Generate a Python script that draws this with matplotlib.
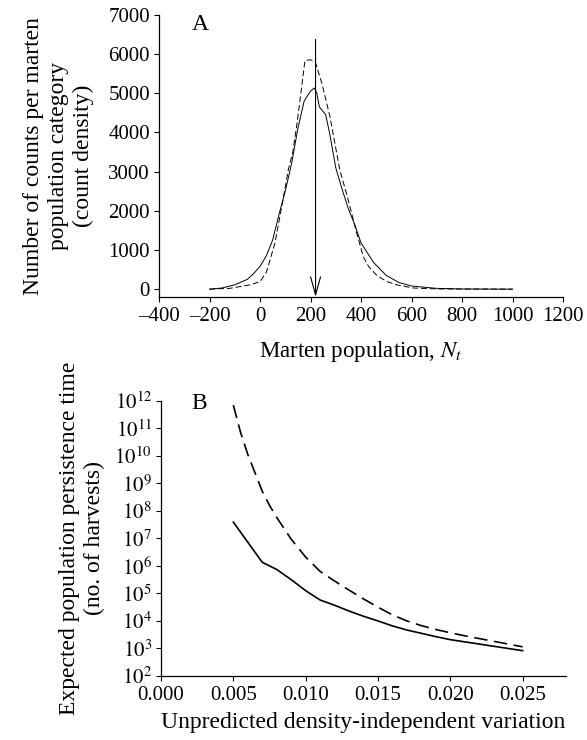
import matplotlib
matplotlib.use("Agg")
import matplotlib.pyplot as plt
import numpy as np

plt.rcParams['font.family'] = ['Liberation Serif', 'DejaVu Serif']
plt.rcParams['mathtext.fontset'] = 'stix'

# Panel A data
a_solid_x = [-200, -150, -100, -75, -50, -25, 0, 25, 50, 75, 100, 125, 150, 175, 200, 215,
             225, 235, 260, 275, 300, 325, 350, 375, 400, 450, 500, 550, 600, 700, 800, 1000]
a_solid_y = [0, 30, 110, 180, 250, 400, 580, 850, 1250, 1900, 2500, 3200, 4100, 4800, 5050, 5130,
             5000, 4650, 4450, 4000, 3100, 2550, 2050, 1650, 1180, 680, 350, 170, 80, 20, 5, 0]
a_dash_x = [-200, -120, -40, 0, 25, 40, 60, 79, 100, 112, 130, 145, 160, 178, 200, 218,
            245, 277, 300, 316, 340, 356, 380, 409, 430, 461, 500, 541, 607, 700, 1000]
a_dash_y = [0, 20, 110, 190, 430, 750, 1200, 1860, 2600, 3040, 3500, 4150, 4900, 5830, 5850, 5810,
            5250, 4400, 3600, 3040, 2500, 2110, 1500, 830, 580, 360, 200, 110, 30, 5, 0]
arrow_x = 220
arrow_top = 6370

# Panel B data (log10 of expected persistence time)
b_solid_x = [0.005, 0.006, 0.007, 0.008, 0.009, 0.010, 0.011, 0.012, 0.013, 0.014, 0.015,
             0.016, 0.017, 0.018, 0.019, 0.020, 0.021, 0.022, 0.023, 0.024, 0.025]
b_solid_log = [7.59, 6.86, 6.13, 5.87, 5.5, 5.1, 4.76, 4.57, 4.36, 4.17, 4.0,
               3.82, 3.67, 3.55, 3.43, 3.32, 3.24, 3.16, 3.08, 3.0, 2.92]
b_dash_x = [0.005, 0.0055, 0.006, 0.0065, 0.007, 0.0075, 0.008, 0.009, 0.010, 0.011, 0.012,
            0.013, 0.014, 0.015, 0.016, 0.017, 0.018, 0.019, 0.020, 0.021, 0.022, 0.023,
            0.024, 0.025]
b_dash_log = [11.84, 10.85, 10.05, 9.38, 8.71, 8.2, 7.76, 6.97, 6.32, 5.8, 5.45,
              5.12, 4.8, 4.5, 4.22, 4.0, 3.83, 3.69, 3.57, 3.46, 3.36, 3.26,
              3.16, 3.06]

a_xticks = [-400, -200, 0, 200, 400, 600, 800, 1000, 1200]
a_yticks = [0, 1000, 2000, 3000, 4000, 5000, 6000, 7000]
b_xticks = [0.000, 0.005, 0.010, 0.015, 0.020, 0.025]
b_yexp = list(range(2, 13))

fig = plt.figure(figsize=(5.87, 7.40), dpi=100)
W, H = 587, 740

def style(ax):
    ax.spines['top'].set_visible(False)
    ax.spines['right'].set_visible(False)
    for s in ('left', 'bottom'):
        ax.spines[s].set_linewidth(0.9)
    ax.tick_params(direction='out', length=3.5, width=0.8, labelsize=15)
    ax.tick_params(axis='x', pad=4)
    ax.tick_params(axis='y', pad=3)

# Panel A
axA = fig.add_axes([159 / W, 1 - 297 / H, (563 - 159) / W, (297 - 14.7) / H])
style(axA)
axA.plot(a_solid_x, a_solid_y, color='black', lw=0.7)
axA.plot(a_dash_x, a_dash_y, color='black', lw=0.7, dashes=(6, 3))
axA.annotate('', xy=(arrow_x, -200), xytext=(arrow_x, arrow_top),
             arrowprops=dict(arrowstyle='->,head_length=1.3,head_width=0.36',
                             color='black', lw=0.8, shrinkA=0, shrinkB=0))
axA.set_xlim(-400, 1200)
axA.set_ylim(-200, 7000)
axA.set_xticks(a_xticks)
axA.set_yticks(a_yticks)
axA.set_xticklabels(['\u2013' + str(-t) if t < 0 else str(t) for t in a_xticks])
axA.set_ylabel('Number of counts per marten\npopulation category\n(count density)',
               fontsize=17, linespacing=1.25, labelpad=10)
axA.set_xlabel('Marten population, $N_t$', fontsize=16.5, labelpad=9)
axA.text(0.08, 0.965, 'A', transform=axA.transAxes, fontsize=17, ha='left', va='center')

# Panel B
axB = fig.add_axes([161 / W, 1 - 676 / H, (566 - 161) / W, (676 - 400.7) / H])
style(axB)
axB.set_yscale('log')
axB.plot(b_solid_x, [10 ** v for v in b_solid_log], color='black', lw=1.2)
axB.plot(b_dash_x, [10 ** v for v in b_dash_log], color='black', lw=1.2, dashes=(8, 4))
axB.set_xlim(0, 0.028)
axB.set_ylim(1e2, 1e12)
axB.set_xticks(b_xticks)
axB.set_xticklabels(['%.3f' % t for t in b_xticks])
axB.set_yticks([10 ** e for e in b_yexp])
axB.set_yticklabels(['$10^{%d}$' % e for e in b_yexp])
axB.minorticks_off()
axB.set_ylabel('Expected population persistence time\n(no. of harvests)',
               fontsize=17, linespacing=1.2, labelpad=7)
axB.set_xlabel('Unpredicted density-independent variation', fontsize=17, labelpad=5)
axB.text(0.076, 0.99, 'B', transform=axB.transAxes, fontsize=17, ha='left', va='center')

fig.savefig('out.png', dpi=100)
